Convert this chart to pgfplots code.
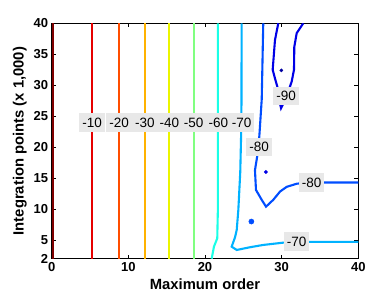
\documentclass[border=0pt]{standalone}
\usepackage{fontspec}
\setmainfont{Liberation Sans}
\usepackage{pgfplots}
\pgfplotsset{compat=1.18}
\definecolor{c0}{RGB}{128,0,0}
\definecolor{c10}{RGB}{230,0,0}
\definecolor{c20}{RGB}{255,77,0}
\definecolor{c30}{RGB}{255,178,0}
\definecolor{c40}{RGB}{235,245,0}
\definecolor{c50}{RGB}{128,255,128}
\definecolor{c60}{RGB}{26,255,230}
\definecolor{c70}{RGB}{0,178,255}
\definecolor{c80}{RGB}{0,77,255}
\definecolor{c90}{RGB}{0,0,230}
\definecolor{c100}{RGB}{0,0,160}
\definecolor{lblgray}{RGB}{232,232,232}
\begin{document}
\begin{tikzpicture}
\begin{axis}[
  scale only axis,
  width=306.6pt, height=235.4pt,
  xmin=0, xmax=40, ymin=2, ymax=40,
  xtick={0,10,20,30,40},
  ytick={2,5,10,15,20,25,30,35,40},
  tick align=inside,
  major tick length=4pt,
  tick style={black, line width=0.5pt},
  axis line style={black, line width=0.8pt},
  /pgf/number format/assume math mode=true,
  ticklabel style={font=\fontsize{13}{15}\selectfont\bfseries},
  label style={font=\fontsize{14.8}{17}\selectfont\bfseries},
  xlabel={Maximum order},
  ylabel={Integration points (x 1,000)},
  cl/.style={line width=2.1pt},
  clip=true,
]
\addplot[cl, c0] coordinates {(0.12,2) (0.12,40)};
\addplot[cl, c10] coordinates {(5.22,2) (5.22,40)};
\addplot[cl, c20] coordinates {(8.8,2) (8.8,40)};
\addplot[cl, c30] coordinates {(12.15,2) (12.15,40)};
\addplot[cl, c40] coordinates {(15.35,2) (15.35,40)};
\addplot[cl, c50] coordinates {(18.52,2) (18.52,40)};
\addplot[cl, c60] coordinates {(20.87,2) (21.17,3.95) (21.6,5.3) (21.68,10) (21.68,40)};
\addplot[cl, c70] coordinates {(24.78,40) (24.75,24) (24.6,16) (24.35,9.9) (24.14,6.65) (23.92,5.47) (23.48,3.94) (24.14,3.41) (25.87,3.85) (27.6,4.22) (30.2,4.59) (33.7,4.72) (40,4.72)};
\addplot[cl, c80] coordinates {(27.6,40) (27.4,27.7) (27.1,22) (26.95,19.6) (26.52,16.3) (26.65,13.1) (27.4,11.5) (27.96,10.4) (28.9,11.5) (29.8,12.85) (30.66,13.6) (31.96,14.1) (33.5,14.3) (40,14.3)};
\addplot[cl, c90] coordinates {(29.56,40) (29.13,37.3) (28.83,32.5) (29.13,31.1) (29.43,29.8) (29.7,27.5) (29.92,26.3) (30.4,27.5) (31.09,29.8) (31.31,30.6) (31.61,32.5) (31.65,36.2) (31.96,38.4) (32.82,40)};
\addplot[c80, only marks, mark=*, mark size=2.6pt] coordinates {(26.05,8.0)};
\addplot[c90, only marks, mark=*, mark size=1.7pt] coordinates {(27.95,16.0)};
\addplot[c100, only marks, mark=*, mark size=1.6pt] coordinates {(29.96,32.4)};
\begin{scope}[every node/.style={fill=lblgray, inner xsep=3pt, inner ysep=4.5pt, font=\fontsize{13.5}{15}\selectfont}]
\node at (axis cs:5.26,24) {-10};
\node at (axis cs:8.8,24) {-20};
\node at (axis cs:12.15,24) {-30};
\node at (axis cs:15.35,24) {-40};
\node at (axis cs:18.52,24) {-50};
\node at (axis cs:21.73,24) {-60};
\node at (axis cs:24.79,24) {-70};
\node at (axis cs:27.07,20.0) {-80};
\node at (axis cs:33.92,14.3) {-80};
\node at (axis cs:31.96,4.76) {-70};
\node at (axis cs:30.6,28.26) {-90};
\end{scope}
\end{axis}
\pgfresetboundingbox
\path (current axis.south west) +(-51.7pt,-40.3pt) (current axis.north east) +(15.7pt,23.3pt);
\end{tikzpicture}
\end{document}
